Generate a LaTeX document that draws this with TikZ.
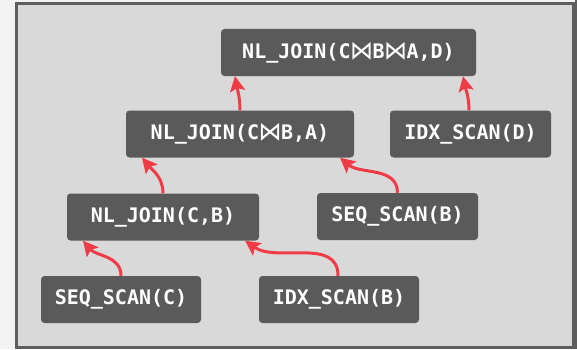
\documentclass[tikz,border=0pt]{standalone}
\usepackage{fontspec}
\usetikzlibrary{arrows.meta}
\newfontfamily\codefont{DejaVu Sans Mono}
\newfontfamily\symfont{DejaVu Sans}
\newcommand{\bowt}{\kern-0.5pt\raisebox{-1.2pt}{\scalebox{1.15}[1.3]{\symfont\mdseries ⋈}}\kern-0.5pt}
\definecolor{pagebg}{HTML}{F3F3F3}
\definecolor{framefill}{HTML}{D9D9D9}
\definecolor{frameline}{HTML}{5E5E5E}
\definecolor{boxfill}{HTML}{5A5A5A}
\definecolor{arrowred}{HTML}{EF3B45}
\tikzset{
  opbox/.style={draw=none, fill=boxfill, rounded corners=3.5pt, text=white,
    font=\codefont\bfseries\fontsize{20pt}{24pt}\selectfont,
    minimum height=47pt, inner sep=0pt, anchor=center},
  flow/.style={draw=arrowred, line width=3pt,
    -{Stealth[length=15pt,width=15pt,inset=3pt]}}
}
\begin{document}
\begin{tikzpicture}[x=1pt,y=1pt]
\useasboundingbox (0,0) rectangle (577,349);
\fill[pagebg] (0,0) rectangle (577,349);
\draw[frameline, line width=3pt, fill=framefill] (16.5,1.5) rectangle (573.5,345.5);
\fill[frameline] (575,0) rectangle (577,349);
% nodes (centre x, 349 - centre y)
\node[opbox, minimum width=255pt] (top) at (348.5,296.5) {NL\_JOIN(C\bowt B\bowt A,D)};
\node[opbox, minimum width=228pt] (cba) at (240,215) {NL\_JOIN(C\bowt B,A)};
\node[opbox, minimum width=161pt] (idxd) at (470.5,215) {IDX\_SCAN(D)};
\node[opbox, minimum width=192pt] (cb) at (163,132) {NL\_JOIN(C,B)};
\node[opbox, minimum width=161pt] (seqb) at (397.5,132.5) {SEQ\_SCAN(B)};
\node[opbox, minimum width=160pt] (seqc) at (121,49.5) {SEQ\_SCAN(C)};
\node[opbox, minimum width=160pt] (idxb) at (339,49.5) {IDX\_SCAN(B)};
% connectors
\draw[flow] (cba.north) to[out=90,in=-80] ([xshift=-113.5pt]top.south);
\draw[flow] ([xshift=-1.5pt]idxd.north) to[out=90,in=-78] ([xshift=114.5pt]top.south);
\draw[flow] (cb.north) to[out=90,in=-50] ([xshift=-98pt]cba.south);
\draw[flow] (seqb.north) to[out=90,in=-40] ([xshift=100pt]cba.south);
\draw[flow] (seqc.north) to[out=90,in=-50] ([xshift=-80pt]cb.south);
\draw[flow] ([xshift=-1pt]idxb.north) to[out=90,in=-35] ([xshift=82pt]cb.south);
\end{tikzpicture}
\end{document}
